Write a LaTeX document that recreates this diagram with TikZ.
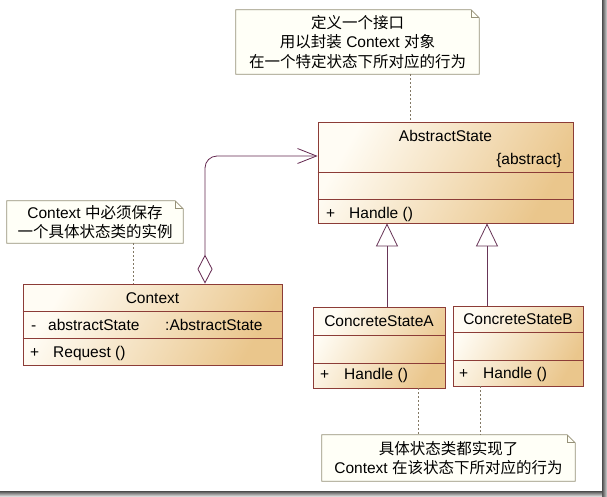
\documentclass[tikz,border=0pt]{standalone}
\usepackage{fontspec}
\setmainfont{Liberation Sans}
\newfontfamily\cjk{Noto Sans CJK SC}
\usepackage{tikz}
\usetikzlibrary{arrows.meta, backgrounds}
\definecolor{clsline}{RGB}{140,60,55}
\definecolor{clstop}{RGB}{255,252,244}
\definecolor{clsbot}{RGB}{234,198,140}
\definecolor{notefill}{RGB}{255,255,247}
\definecolor{noteline}{RGB}{150,145,120}
\definecolor{notelink}{RGB}{130,120,100}
\definecolor{assocline}{RGB}{100,40,80}
\newcommand\umlfont{\fontsize{15.5}{19.5}\selectfont}
\tikzstyle{aggregate} = [{Diamond[open, length=29pt, width=15pt]}-{Straight Barb[length=19pt, width=15pt]}, draw=assocline, line width=0.8pt, rounded corners=12pt]
\tikzstyle{inherit} = [-{Triangle[open, length=23pt, width=22pt]}, draw=assocline!85!gray, line width=0.8pt]
\tikzset{
    umlclass/.style={draw=clsline, line width=0.8pt, inner sep=0pt, top color=clstop, bottom color=clsbot, shading angle=60},
    umlsep/.style={draw=clsline, line width=0.8pt},
    umltext/.style={font=\umlfont, inner sep=0pt},
    umlnote/.style={font=\umlfont, inner sep=0pt, align=center},
    notebox/.style={draw=noteline, fill=notefill, line width=0.8pt},
    notelinkline/.style={draw=notelink, line width=0.9pt, dash pattern=on 2pt off 2pt},
}

\begin{document}
\begin{tikzpicture}[x=1pt, y=-1pt]
    \useasboundingbox (0,0) rectangle (607,496);

    % frame shadow
    \shade[left color=black!70, right color=black!15] (602,0) rectangle (607,496);
    \shade[top color=black!70, bottom color=black!15] (0,491) rectangle (602,496);

    % notes
    \node[umlnote, minimum width=243pt, minimum height=64pt] (topnote) at (357.5,42)
        {{\cjk 定义一个接口}\\{\cjk 用以封装} Context {\cjk 对象}\\{\cjk 在一个特定状态下所对应的行为}};
    \node[umlnote, minimum width=176pt, minimum height=42pt] (leftnote) at (95,222)
        {Context {\cjk 中必须保存}\\{\cjk 一个具体状态类的实例}};
    \node[umlnote, minimum width=253pt, minimum height=46pt] (statenote) at (448.5,458)
        {{\cjk 具体状态类都实现了}\\Context {\cjk 在该状态下所对应的行为}};

    % AbstractState class
    \node[umlclass, minimum width=255pt, minimum height=101pt] (abstractstate) at (445.5,172.5) {};
    \draw[umlsep] (abstractstate.west |- 0,172) -- (abstractstate.east |- 0,172);
    \draw[umlsep] (abstractstate.west |- 0,199) -- (abstractstate.east |- 0,199);
    \node[umltext, anchor=base] (abstitle) at (445.5,141) {AbstractState};
    \node[umltext, anchor=base east] (abstag) at (562,164) {\{abstract\}};
    \node[umltext, anchor=base west] (absplus) at (326,218) {+};
    \node[umltext, anchor=base west] (abshandle) at (349,218) {Handle ()};

    % Context class
    \node[umlclass, minimum width=259pt, minimum height=81pt] (context) at (152.5,324.5) {};
    \draw[umlsep] (context.west |- 0,311) -- (context.east |- 0,311);
    \draw[umlsep] (context.west |- 0,338) -- (context.east |- 0,338);
    \node[umltext, anchor=base] (ctxtitle) at (152.5,303) {Context};
    \node[umltext, anchor=base west] (ctxminus) at (31,330) {-};
    \node[umltext, anchor=base west] (ctxfield) at (48,330) {abstractState};
    \node[umltext, anchor=base west] (ctxtype) at (165,330) {:AbstractState};
    \node[umltext, anchor=base west] (ctxplus) at (30,357) {+};
    \node[umltext, anchor=base west] (ctxrequest) at (53,357) {Request ()};

    % ConcreteStateA class
    \node[umlclass, minimum width=132pt, minimum height=81pt] (concretea) at (379,347.5) {};
    \draw[umlsep] (concretea.west |- 0,335) -- (concretea.east |- 0,335);
    \draw[umlsep] (concretea.west |- 0,363) -- (concretea.east |- 0,363);
    \node[umltext, anchor=base] (atitle) at (379,326.5) {ConcreteStateA};
    \node[umltext, anchor=base west] (aplus) at (320,379) {+};
    \node[umltext, anchor=base west] (ahandle) at (344,379) {Handle ()};

    % ConcreteStateB class
    \node[umlclass, minimum width=130pt, minimum height=80pt] (concreteb) at (518,346) {};
    \draw[umlsep] (concreteb.west |- 0,332) -- (concreteb.east |- 0,332);
    \draw[umlsep] (concreteb.west |- 0,360) -- (concreteb.east |- 0,360);
    \node[umltext, anchor=base] (btitle) at (518,324.5) {ConcreteStateB};
    \node[umltext, anchor=base west] (bplus) at (459,378) {+};
    \node[umltext, anchor=base west] (bhandle) at (483,378) {Handle ()};

    % note outlines with folded corner
    \begin{scope}[on background layer]
        \fill[white] (0,0) rectangle (607,496);
        \foreach \n in {topnote, leftnote, statenote} {
            \draw[notebox] (\n.south west) -- (\n.north west) -- ([xshift=-8pt]\n.north east)
                -- ([yshift=-8pt]\n.north east) -- (\n.south east) -- cycle;
            \draw[draw=noteline, line width=0.8pt] ([xshift=-8pt]\n.north east)
                -- ([xshift=-8pt, yshift=-8pt]\n.north east) -- ([yshift=-8pt]\n.north east);
        }
    \end{scope}

    % note links
    \draw[notelinkline] ([xshift=52.5pt]topnote.south) -- ([xshift=52.5pt]topnote.south |- abstractstate.north);
    \draw[notelinkline] ([xshift=38pt]leftnote.south) -- ([xshift=38pt]leftnote.south |- context.north);
    \draw[notelinkline] ([xshift=39pt]concretea.south) -- ([xshift=39pt]concretea.south |- statenote.north);
    \draw[notelinkline] ([xshift=-38pt]concreteb.south) -- ([xshift=-38pt]concreteb.south |- statenote.north);

    % aggregation and inheritance
    \draw[aggregate] ([xshift=52.5pt]context.north) |- ([yshift=16.5pt]abstractstate.west);
    \draw[inherit] ([xshift=8pt]concretea.north) -- ([xshift=8pt]concretea.north |- abstractstate.south);
    \draw[inherit] ([xshift=-31pt]concreteb.north) -- ([xshift=-31pt]concreteb.north |- abstractstate.south);
\end{tikzpicture}
\end{document}
